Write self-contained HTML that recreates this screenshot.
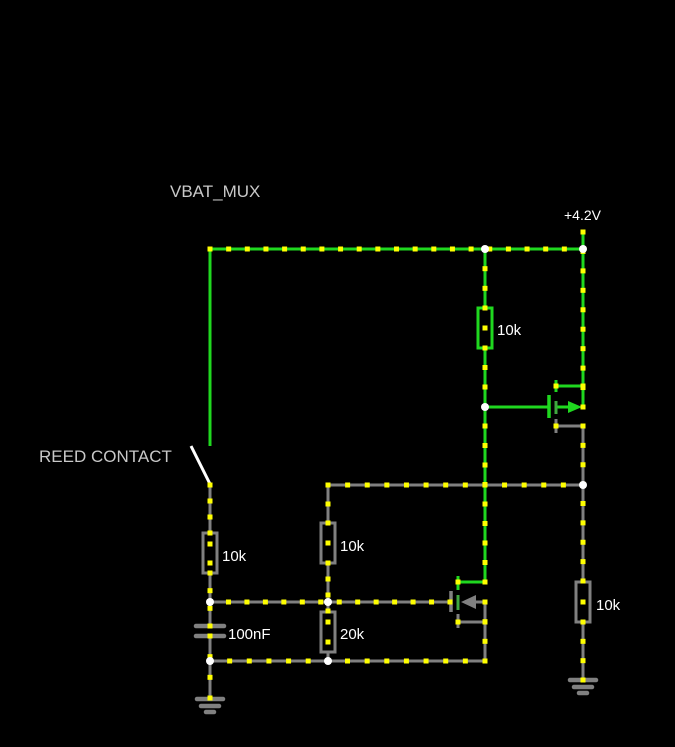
<!DOCTYPE html>
<html><head><meta charset="utf-8">
<style>
html,body{margin:0;padding:0;background:#000;width:675px;height:747px;overflow:hidden}
svg{display:block}
text{font-family:"Liberation Sans",sans-serif}
</style></head>
<body>
<svg id="s" width="675" height="747" viewBox="0 0 675 747" xmlns="http://www.w3.org/2000/svg">
<g id="wires" stroke-width="3" fill="none" stroke-linecap="butt">
<line x1="210" y1="249" x2="583" y2="249" stroke="#1fd81f"/>
<line x1="210" y1="249" x2="210" y2="446" stroke="#1fd81f"/>
<line x1="583" y1="232" x2="583" y2="407" stroke="#1fd81f"/>
<line x1="485" y1="249" x2="485" y2="308" stroke="#1fd81f"/>
<line x1="485" y1="348" x2="485" y2="582" stroke="#1fd81f"/>
<line x1="485" y1="407" x2="548" y2="407" stroke="#1fd81f"/>
<line x1="556" y1="386" x2="583" y2="386" stroke="#1fd81f"/>
<line x1="556" y1="407" x2="568" y2="407" stroke="#1fd81f"/>
<line x1="458" y1="582" x2="485" y2="582" stroke="#1fd81f"/>
<line x1="556" y1="426" x2="583" y2="426" stroke="#808080"/>
<line x1="583" y1="426" x2="583" y2="581" stroke="#808080"/>
<line x1="583" y1="622" x2="583" y2="680" stroke="#808080"/>
<line x1="328" y1="485" x2="583" y2="485" stroke="#808080"/>
<line x1="328" y1="485" x2="328" y2="523" stroke="#808080"/>
<line x1="328" y1="563" x2="328" y2="611" stroke="#808080"/>
<line x1="328" y1="652" x2="328" y2="661" stroke="#808080"/>
<line x1="210" y1="485" x2="210" y2="533" stroke="#808080"/>
<line x1="210" y1="573" x2="210" y2="626" stroke="#808080"/>
<line x1="210" y1="636" x2="210" y2="698" stroke="#808080"/>
<line x1="210" y1="602" x2="450" y2="602" stroke="#808080"/>
<line x1="210" y1="661" x2="485" y2="661" stroke="#808080"/>
<line x1="475" y1="602" x2="485" y2="602" stroke="#808080"/>
<line x1="485" y1="602" x2="485" y2="661" stroke="#808080"/>
<line x1="458" y1="622" x2="485" y2="622" stroke="#808080"/>
</g>
<rect x="478" y="308" width="14" height="40" fill="none" stroke="#1fd81f" stroke-width="3"/>
<rect x="203" y="533" width="14" height="40" fill="none" stroke="#808080" stroke-width="3"/>
<rect x="321" y="523" width="14" height="40" fill="none" stroke="#808080" stroke-width="3"/>
<rect x="321" y="612" width="14" height="40" fill="none" stroke="#808080" stroke-width="3"/>
<rect x="576" y="582" width="14" height="40" fill="none" stroke="#808080" stroke-width="3"/>
<line x1="196" y1="626" x2="224" y2="626" stroke="#808080" stroke-width="4.5" stroke-linecap="round"/>
<line x1="196" y1="636" x2="224" y2="636" stroke="#808080" stroke-width="4.5" stroke-linecap="round"/>
<line x1="191" y1="446" x2="210" y2="484" stroke="#fff" stroke-width="3"/>
<line x1="549" y1="395" x2="549" y2="418" stroke="#1fd81f" stroke-width="3.5"/>
<line x1="556" y1="380" x2="556" y2="392" stroke="#1fd81f" stroke-width="3"/>
<line x1="556" y1="401" x2="556" y2="414" stroke="#3fa83f" stroke-width="3"/>
<line x1="556" y1="419" x2="556" y2="433" stroke="#808080" stroke-width="3"/>
<polygon points="568,401 582,407 568,413" fill="#1fd81f"/>
<line x1="451" y1="591" x2="451" y2="612" stroke="#808080" stroke-width="3.5"/>
<line x1="458" y1="576" x2="458" y2="590" stroke="#1fd81f" stroke-width="3"/>
<line x1="458" y1="595" x2="458" y2="610" stroke="#3fa83f" stroke-width="3"/>
<line x1="458" y1="614" x2="458" y2="628" stroke="#808080" stroke-width="3"/>
<polygon points="461,602 476,595 476,609" fill="#808080"/>
<g stroke="#808080" stroke-width="4.5" stroke-linecap="round">
<line x1="197" y1="699" x2="223" y2="699"/><line x1="201" y1="706" x2="219" y2="706"/><line x1="206" y1="712" x2="214" y2="712"/>
<line x1="570" y1="680" x2="596" y2="680"/><line x1="574" y1="687" x2="592" y2="687"/><line x1="579" y1="693" x2="587" y2="693"/>
</g>
<g id="dots" fill="#ff0"></g>
<g fill="#fff">
<circle cx="485" cy="249" r="4"/><circle cx="583" cy="249" r="4"/>
<circle cx="485" cy="407" r="4"/><circle cx="583" cy="485" r="4"/>
<circle cx="210" cy="602" r="4"/><circle cx="328" cy="602" r="4"/>
<circle cx="210" cy="661" r="4"/><circle cx="328" cy="661" r="4"/>
</g>
<text x="170" y="197" fill="#c8c8c8" font-size="17">VBAT_MUX</text>
<text x="39" y="462" fill="#c8c8c8" font-size="17">REED CONTACT</text>
<text x="564" y="220" fill="#fff" font-size="14">+4.2V</text>
<g fill="#fff" font-size="15">
<text x="497" y="335">10k</text>
<text x="222" y="561">10k</text>
<text x="340" y="551">10k</text>
<text x="340" y="639">20k</text>
<text x="228" y="639">100nF</text>
<text x="596" y="610">10k</text>
</g>
</svg>
<script>
(function(){
var segs=[[210,249,583,249],[583,232,583,407],[485,249,485,308],[485,348,485,582],[210,485,210,533],[210,573,210,626],[210,636,210,698],
[328,485,583,485],[328,485,328,523],[328,563,328,611],[210,602,450,602],[210,661,485,661],[485,602,485,661],[583,426,583,581],[583,622,583,680],
[556,386,583,386],[458,582,485,582],[556,426,583,426],[458,622,485,622]];
var g=document.getElementById('dots'),ns='http://www.w3.org/2000/svg';
function add(x,y){var r=document.createElementNS(ns,'rect');r.setAttribute('x',x-2.5);r.setAttribute('y',y-2.5);r.setAttribute('width',5);r.setAttribute('height',5);g.appendChild(r);}
segs.forEach(function(s){
 var dx=s[2]-s[0],dy=s[3]-s[1],L=Math.hypot(dx,dy),n=Math.max(1,Math.round(L/19));
 for(var i=0;i<=n;i++){add(s[0]+dx*i/n,s[1]+dy*i/n);}
});
[[485,328],[210,544],[210,563],[328,543],[328,622],[328,642],[583,602]].forEach(function(p){add(p[0],p[1]);});
})();
</script>
</body></html>
